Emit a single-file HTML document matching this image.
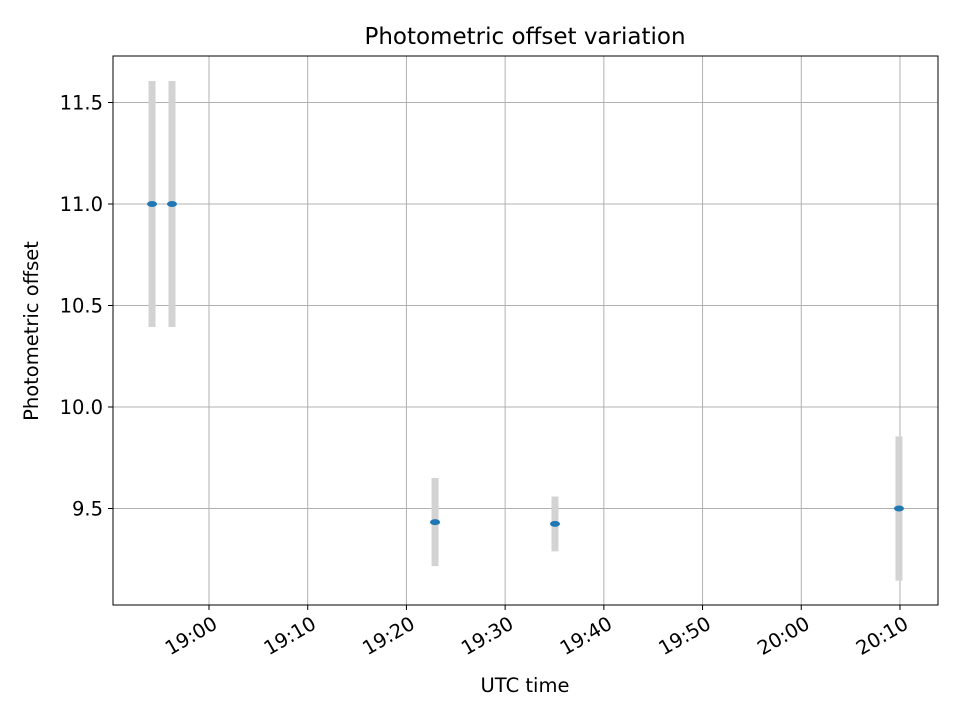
<!DOCTYPE html>
<html><head><meta charset="utf-8"><style>
body{margin:0;background:#fff;font-family:"DejaVu Sans","Liberation Sans",sans-serif}
svg text{font-family:"DejaVu Sans","Liberation Sans",sans-serif}
</style></head><body>
<svg id="chart" width="960" height="720" xmlns="http://www.w3.org/2000/svg">
<rect width="960" height="720" fill="#fff"/>
<text x="525" y="44" style="font-size:23px" text-anchor="middle">Photometric offset variation</text>
<text x="525" y="692" style="font-size:19.5px" text-anchor="middle">UTC time</text>
<text transform="translate(38,331) rotate(-90)" style="font-size:19.5px" text-anchor="middle">Photometric offset</text>
<g id="grid"></g><g id="bars"></g><g id="pts"></g><g id="ticks"></g>
<rect x="113" y="56" width="825" height="549" fill="none" stroke="#000" stroke-width="1"/>
</svg>
<script>
// minutes relative to 19:00
const times=[-5.77,-3.75,22.9,35.05,69.9];
const values=[11.0,11.0,9.433,9.424,9.5];
const errors=[0.606,0.606,0.217,0.135,0.355];
const yTicks=[9.5,10.0,10.5,11.0,11.5];
const yTickLabels=["9.5","10.0","10.5","11.0","11.5"];
const xTicks=[0,10,20,30,40,50,60,70];
const xTickLabels=["19:00","19:10","19:20","19:30","19:40","19:50","20:00","20:10"];
const ns="http://www.w3.org/2000/svg";
const X=m=>209+m*9.871, Y=v=>204-(v-11)*203;
function mk(tag,attrs,parent){const e=document.createElementNS(ns,tag);for(const k in attrs)e.setAttribute(k,attrs[k]);document.getElementById(parent).appendChild(e);return e;}
yTicks.forEach((v,i)=>{
 let g=mk('line',{x1:113,x2:938,y1:Y(v),y2:Y(v),stroke:'#b0b0b0','stroke-width':1},'grid');
 
 
 let t=mk('line',{x1:108,x2:113,y1:Y(v),y2:Y(v),stroke:'#000'},'ticks');
 
 
 let l=mk('text',{x:103,y:Y(v)+7,style:'font-size:19.5px','text-anchor':'end'},'ticks');l.textContent=yTickLabels[i];
 
 
});
xTicks.forEach((m,i)=>{
 let g=mk('line',{x1:X(m),x2:X(m),y1:56,y2:605,stroke:'#b0b0b0','stroke-width':1},'grid');
 
 
 let t=mk('line',{x1:X(m),x2:X(m),y1:605,y2:610,stroke:'#000'},'ticks');
 
 
 let l=mk('text',{transform:`translate(${X(m)+2},${614}) rotate(-30)`,style:'font-size:19.5px','text-anchor':'end',dy:'0.8em'},'ticks');l.textContent=xTickLabels[i];
 
 
});
times.forEach((m,i)=>{
 let b=mk('line',{x1:X(m),x2:X(m),y1:Y(values[i]+errors[i]),y2:Y(values[i]-errors[i]),stroke:'#d3d3d3','stroke-width':7},'bars');
 
 
 let p=mk('ellipse',{cx:X(m),cy:Y(values[i]),rx:5,ry:3,fill:'#1f77b4'},'pts');
 
 
});
</script>
</body></html>
